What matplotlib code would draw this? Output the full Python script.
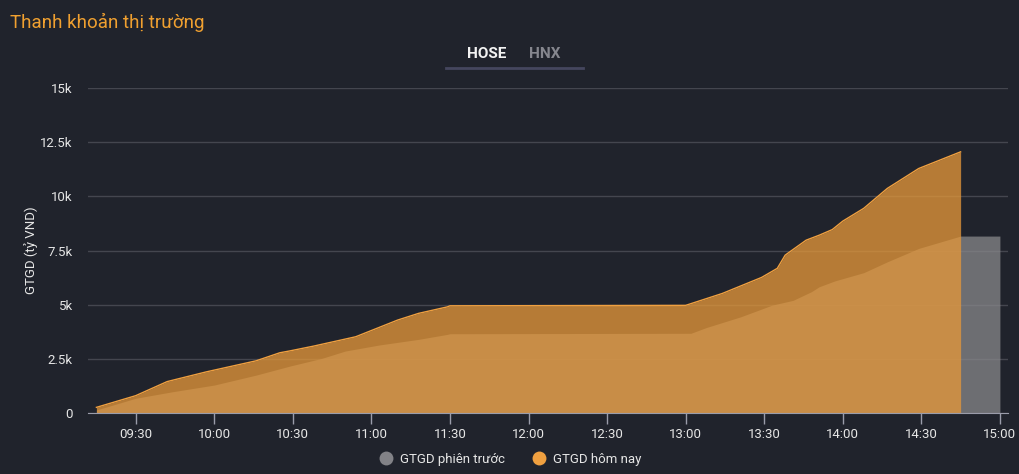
import matplotlib
matplotlib.use("Agg")
import matplotlib.pyplot as plt
from matplotlib.lines import Line2D
import numpy as np

plt.rcParams['font.family'] = ['Roboto', 'DejaVu Sans']

# GTGD hôm nay (tỷ VND, cumulative)
today_times = ["09:15", "09:30", "09:42", "09:57", "10:16", "10:25", "10:29", "10:38",
               "10:54", "11:10", "11:18", "11:29", "11:30", "13:00", "13:14", "13:29",
               "13:35", "13:38", "13:46", "13:51", "13:56", "14:00", "14:08", "14:17",
               "14:29", "14:45"]
today_values = [260, 800, 1450, 1900, 2410, 2780, 2870, 3090,
                3520, 4290, 4600, 4900, 4950, 4970, 5520, 6260,
                6680, 7290, 7980, 8210, 8470, 8860, 9450, 10370,
                11290, 12060]

# GTGD phiên trước
prev_times = ["09:15", "09:30", "09:44", "10:00", "10:16", "10:29", "10:41", "10:50",
              "11:03", "11:18", "11:29", "11:30", "13:02", "13:08", "13:21", "13:33",
              "13:41", "13:48", "13:51", "13:57", "14:08", "14:17", "14:29", "14:45",
              "15:00"]
prev_values = [140, 680, 980, 1290, 1750, 2170, 2520, 2860,
               3140, 3400, 3630, 3660, 3680, 3950, 4440, 4980,
               5200, 5600, 5830, 6100, 6480, 6980, 7600, 8170,
               8170]

x_ticks = ["09:30", "10:00", "10:30", "11:00", "11:30", "12:00", "12:30",
           "13:00", "13:30", "14:00", "14:30", "15:00"]
y_ticks = [0, 2500, 5000, 7500, 10000, 12500, 15000]
y_labels = ["0", "2.5k", "5k", "7.5k", "10k", "12.5k", "15k"]


def to_min(t):
    h, m = t.split(":")
    return int(h) * 60 + int(m)


bg = "#20232c"
fig = plt.figure(figsize=(10.2, 4.74), dpi=100, facecolor=bg)
ax = fig.add_axes([0.0863, 0.1287, 0.9017, 0.6853])
ax.set_facecolor(bg)

tx = np.array([to_min(t) for t in today_times])
px = np.array([to_min(t) for t in prev_times])

ax.fill_between(px, 0, prev_values, color=(136/255, 136/255, 139/255), alpha=0.75,
                linewidth=0, zorder=2)
ax.fill_between(tx, 0, today_values, color=(228/255, 151/255, 58/255), alpha=0.77,
                linewidth=0, zorder=3)
ax.plot(tx, today_values, color="#f0a040", linewidth=1, zorder=4)

ax.set_xlim(551.8, 903)
ax.set_ylim(0, 15000)
ax.set_xticks([to_min(t) for t in x_ticks])
ax.set_xticklabels(x_ticks)
ax.set_yticks(y_ticks)
ax.set_yticklabels(y_labels)

ax.grid(axis="y", color="#44464f", linewidth=1, zorder=1)
ax.set_axisbelow(True)
for s in ["top", "right", "left"]:
    ax.spines[s].set_visible(False)
ax.spines["bottom"].set_color("#9a9caa")
ax.spines["bottom"].set_zorder(5)
ax.tick_params(axis="x", colors="#9a9caa", length=8, width=1, labelcolor="#e6e6e6",
               labelsize=9.5, pad=3)
ax.tick_params(axis="y", length=0, labelcolor="#e6e6e6", labelsize=9.5, pad=11)

ax.set_ylabel("GTGD (tỷ VND)", color="#e6e6e6", fontsize=9.5)
ax.yaxis.set_label_coords(-0.054, 0.5)

# title and tabs
fig.text(0.0098, 0.953, "Thanh khoản thị trường", color="#f0a030", fontsize=13.5,
         va="center", ha="left")
fig.text(0.4775, 0.886, "HOSE", color="#f2f2f2", fontsize=11, fontweight="bold",
         va="center", ha="center")
fig.text(0.5345, 0.886, "HNX", color="#85868e", fontsize=11, fontweight="bold",
         va="center", ha="center")
fig.add_artist(Line2D([446/1020, 583/1020], [1 - 68/474, 1 - 68/474],
                      color="#45465e", linewidth=2))

# legend
handles = [
    Line2D([], [], marker="o", linestyle="none", markersize=10,
           markerfacecolor="#828287", markeredgecolor="none", label="GTGD phiên trước"),
    Line2D([], [], marker="o", linestyle="none", markersize=10,
           markerfacecolor="#f0a040", markeredgecolor="none", label="GTGD hôm nay"),
]
leg = fig.legend(handles=handles, loc="center", bbox_to_anchor=(0.5, 1 - 459/474),
                 ncol=2, frameon=False, fontsize=9.5, handletextpad=0.45,
                 columnspacing=2.0, handlelength=1.2)
for t in leg.get_texts():
    t.set_color("#e6e6e6")

fig.savefig("out.png", dpi=100, facecolor=bg)
